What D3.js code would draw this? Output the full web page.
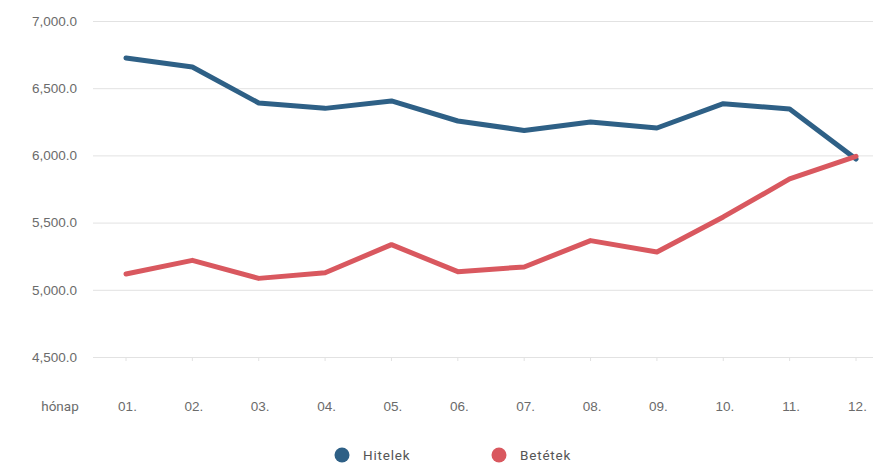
<!DOCTYPE html>
<html>
<head>
<meta charset="utf-8">
<script src="https://cdn.jsdelivr.net/npm/d3@7/dist/d3.min.js"></script>
<style>
  html, body { margin: 0; padding: 0; background: #fff; }
  svg { display: block; font-family: Roboto, "Liberation Sans", sans-serif; }
</style>
</head>
<body>
<svg id="chart" width="873" height="465"></svg>
<script>
// Havi adatok
const months = ["01.", "02.", "03.", "04.", "05.", "06.", "07.", "08.", "09.", "10.", "11.", "12."];
const hitelek = [6725, 6658, 6390, 6350, 6405, 6256, 6186, 6249, 6204, 6385, 6345, 5973];
const betetek = [5118, 5219, 5085, 5127, 5336, 5135, 5170, 5366, 5281, 5542, 5825, 5993];
const yTicks = [4500, 5000, 5500, 6000, 6500, 7000];
const seriesNames = ["Hitelek", "Betétek"];
const seriesColors = ["#2e6086", "#d9585f"];
const axisTitle = "hónap";

const svg = d3.select("#chart");

const x = d3.scalePoint().domain(months).range([126, 856]);
const y = d3.scaleLinear().domain([4500, 7000]).range([357, 21]);

// Vízszintes rácsvonalak és értékcímkék
const yAxis = d3.axisLeft(y)
  .tickValues(yTicks)
  .tickSize(-(873 - 93))
  .tickPadding(16)
  .tickFormat(d3.format(",.1f"));

const gy = svg.append("g").attr("transform", "translate(93,0)").call(yAxis);
gy.select(".domain").remove();
gy.selectAll(".tick line").attr("stroke", "#e2e2e2").attr("stroke-width", 1);
gy.selectAll(".tick text")
  .attr("fill", "#6b6b6b")
  .attr("font-size", 13.5)
  .attr("dx", 0);

// Kis osztásjelek az alsó vonalon
svg.append("g").selectAll("line")
  .data(months)
  .join("line")
  .attr("x1", d => x(d)).attr("x2", d => x(d))
  .attr("y1", y(4500)).attr("y2", y(4500) + 4)
  .attr("stroke", "#e2e2e2");

// Hónap címkék
const xAxis = d3.axisBottom(x).tickSize(0).tickPadding(0);
const gx = svg.append("g").attr("transform", "translate(0,411)").call(xAxis);
gx.select(".domain").remove();
gx.selectAll(".tick text")
  .attr("fill", "#6b6b6b")
  .attr("font-size", 13.5)
  .attr("dy", 0)
  .attr("dx", 1);

svg.append("text")
  .attr("x", 60).attr("y", 411)
  .attr("text-anchor", "middle")
  .attr("fill", "#6b6b6b")
  .attr("font-size", 13.5)
  .text(axisTitle);

// Vonalak
const line = d3.line().x((d, i) => x(months[i])).y(d => y(d));
[hitelek, betetek].forEach((vals, k) => {
  svg.append("path")
    .datum(vals)
    .attr("d", line)
    .attr("fill", "none")
    .attr("stroke", seriesColors[k])
    .attr("stroke-width", 5)
    .attr("stroke-linejoin", "round")
    .attr("stroke-linecap", "round");
});

// Jelmagyarázat
const legendX = [342, 499];
const lg = svg.append("g").selectAll("g")
  .data(seriesNames)
  .join("g")
  .attr("transform", (d, i) => `translate(${legendX[i]},455)`);
lg.append("circle").attr("r", 7.5).attr("fill", (d, i) => seriesColors[i]);
lg.append("text")
  .attr("x", 21).attr("y", 5)
  .attr("fill", "#555")
  .attr("font-size", 13.5)
  .attr("letter-spacing", 0.8)
  .text(d => d);
</script>
</body>
</html>
